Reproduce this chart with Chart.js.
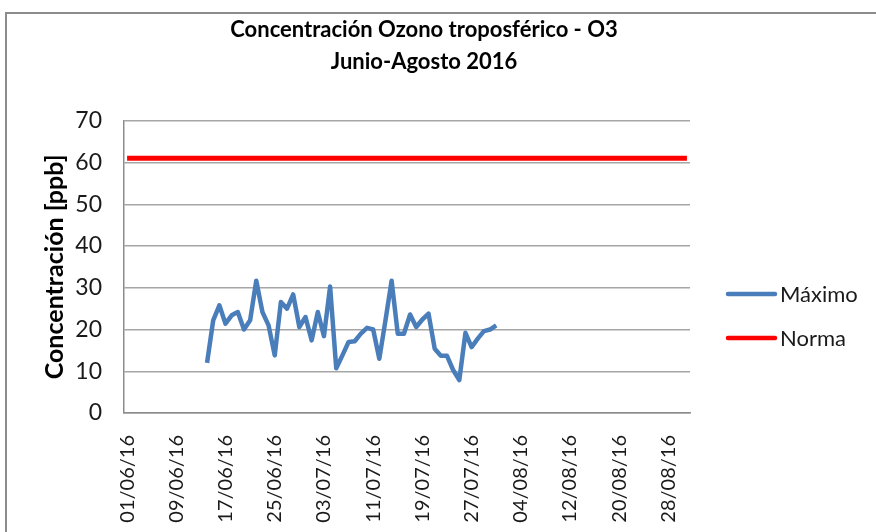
<!DOCTYPE html>
<html>
<head>
<meta charset="utf-8">
<script src="https://cdn.jsdelivr.net/npm/chart.js@4.4.1/dist/chart.umd.min.js"></script>
<style>
  body { margin: 0; background: #fff; }
  #wrap { position: relative; width: 876px; height: 532px; }
  #frame { position: absolute; left: 5px; top: 12px; right: -10px; bottom: -10px;
           border-left: 2px solid #8c8c8c; border-top: 2px solid #8c8c8c; }
  canvas { position: absolute; left: 0; top: 0; }
</style>
</head>
<body>
<div id="wrap">
  <div id="frame"></div>
  <canvas id="myChart" width="876" height="532"></canvas>
</div>
<script>
// days counted from 01/06/16 (index 0) up to 31/08/16 (index 91)
var totalDays = 92;
var tickDays = [0, 8, 16, 24, 32, 40, 48, 56, 64, 72, 80, 88];
var tickLabels = ['01/06/16', '09/06/16', '17/06/16', '25/06/16', '03/07/16', '11/07/16',
                  '19/07/16', '27/07/16', '04/08/16', '12/08/16', '20/08/16', '28/08/16'];

// Máximo: daily values from 14/06/16 (day 13) to 31/07/16
var maxStartDay = 13;
var maxValues = [12, 22.2, 25.8, 21.4, 23.4, 24.2, 20.0, 22.2, 31.7, 24.2,
                 21.0, 13.8, 26.6, 25.0, 28.4, 20.6, 23.0, 17.4, 24.2, 18.4,
                 30.3, 10.7, 13.8, 17.0, 17.2, 19.0, 20.4, 20.0, 13.0, 22.2,
                 31.7, 19.0, 19.0, 23.6, 20.6, 22.4, 23.8, 15.4, 13.7, 13.7,
                 10.3, 7.9, 19.2, 15.8, 17.8, 19.6, 20.0, 21.0];

// Norma: limit for the whole period
var normaValue = 61;
var normaDays = [0, 91];

var maxPoints = maxValues.map(function (v, i) { return { x: maxStartDay + i + 0.5, y: v }; });
var normaPoints = normaDays.map(function (d) { return { x: d + 0.5, y: normaValue }; });

var legendRight = {
    id: 'legendRight',
    afterDraw: function (chart) {
        var ctx = chart.ctx;
        var rows = [294, 338];
        ctx.save();
        chart.data.datasets.forEach(function (ds, i) {
            ctx.strokeStyle = ds.borderColor;
            ctx.lineWidth = 4.5;
            ctx.lineCap = 'round';
            ctx.beginPath();
            ctx.moveTo(728, rows[i]);
            ctx.lineTo(775, rows[i]);
            ctx.stroke();
            ctx.fillStyle = '#1a1a1a';
            ctx.font = '22px Lato';
            ctx.textBaseline = 'middle';
            ctx.fillText(ds.label, 780, rows[i] + 1);
        });
        ctx.restore();
    }
};

var ctx = document.getElementById('myChart').getContext('2d');
var myChart = new Chart(ctx, {
    type: 'line',
    data: {
        datasets: [{
            label: 'Máximo',
            data: maxPoints,
            borderColor: '#4a7ebb',
            borderWidth: 4.5,
            pointRadius: 0,
            tension: 0,
            borderJoinStyle: 'round',
            fill: false
        }, {
            label: 'Norma',
            data: normaPoints,
            borderColor: '#ff0000',
            borderWidth: 5,
            pointRadius: 0,
            fill: false
        }]
    },
    options: {
        responsive: false,
        animation: false,
        layout: { padding: { left: 0, right: 28, top: 0, bottom: 0 } },
        scales: {
            x: {
                type: 'linear',
                min: 0,
                max: totalDays,
                afterBuildTicks: function (scale) {
                    scale.ticks = tickDays.map(function (d) { return { value: d + 0.5 }; });
                },
                afterFit: function (scale) { scale.height = 119; },
                grid: { display: false },
                border: { display: true, color: '#8c8c8c', width: 1.5 },
                ticks: {
                    autoSkip: false,
                    minRotation: 90,
                    maxRotation: 90,
                    padding: 14,
                    color: '#1a1a1a',
                    font: { family: 'Lato', size: 20 },
                    callback: function (value, index) {
                        return tickLabels[index];
                    }
                }
            },
            y: {
                min: 0,
                max: 70,
                afterFit: function (scale) { scale.width = 124; },
                grid: { color: '#a6a6a6', lineWidth: 1.5, drawTicks: false },
                border: { display: true, color: '#8c8c8c', width: 1.5 },
                ticks: {
                    stepSize: 10,
                    padding: 22,
                    color: '#1a1a1a',
                    font: { family: 'Lato', size: 23 }
                },
                title: {
                    display: true,
                    text: 'Concentración [ppb]',
                    color: '#000',
                    font: { family: 'Lato', size: 25, weight: 'bold' },
                    padding: { top: 40, bottom: 0 }
                }
            },
            // empty right-hand scale that keeps room for the legend
            yRight: {
                position: 'right',
                min: 0,
                max: 70,
                afterFit: function (scale) { scale.width = 158; },
                grid: { display: false, drawTicks: false },
                border: { display: false },
                ticks: { display: false }
            }
        },
        plugins: {
            legend: { display: false },
            tooltip: { enabled: false },
            title: {
                display: true,
                text: ['Concentración Ozono troposférico - O3', 'Junio-Agosto 2016'],
                color: '#000',
                font: { family: 'Lato', size: 22, weight: 'bold', lineHeight: 1.45 },
                padding: { top: 14, bottom: 43 }
            }
        }
    },
    plugins: [legendRight]
});
</script>
</body>
</html>
